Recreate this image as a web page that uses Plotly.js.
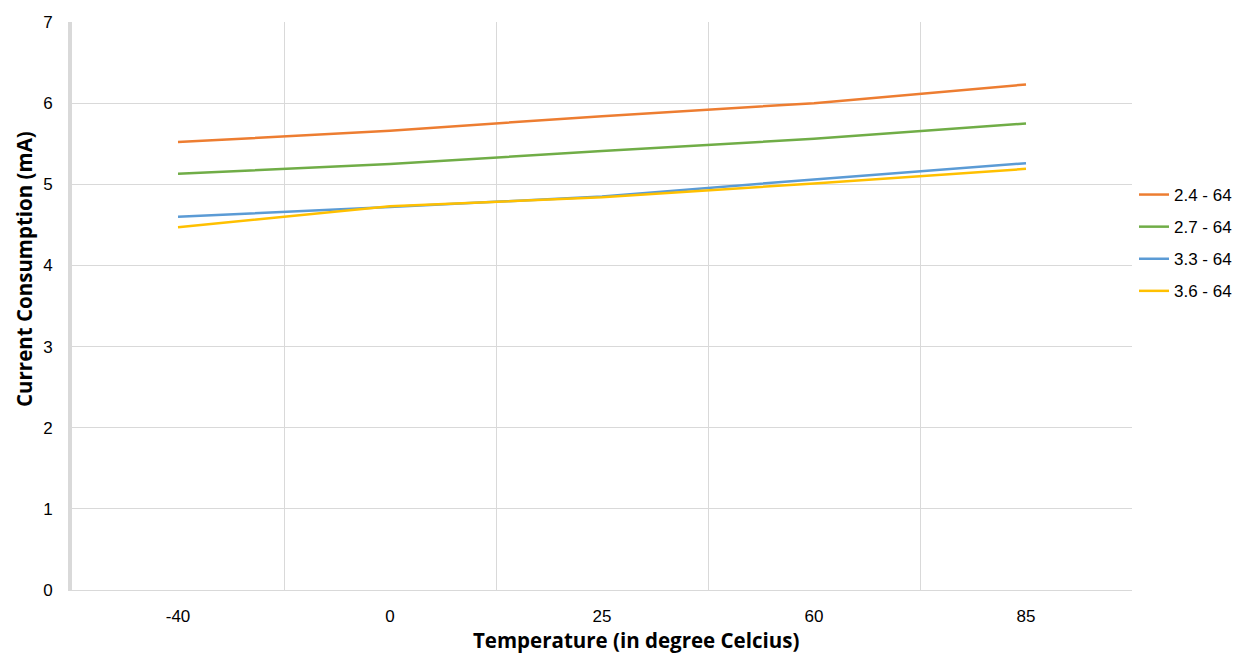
<!DOCTYPE html>
<html>
<head>
<meta charset="utf-8">
<script src="https://cdn.plot.ly/plotly-3.0.1.min.js"></script>
<style>html,body{margin:0;padding:0;background:#fff;}#chart{width:1238px;height:654px;}</style>
</head>
<body>
<div id="chart"></div>
<script>
const categories = ["-40", "0", "25", "60", "85"];
const seriesNames = ["2.4 - 64", "2.7 - 64", "3.3 - 64", "3.6 - 64"];
const s24 = [5.52, 5.66, 5.84, 6.00, 6.23];
const s27 = [5.13, 5.25, 5.41, 5.56, 5.75];
const s33 = [4.60, 4.72, 4.85, 5.06, 5.26];
const s36 = [4.47, 4.73, 4.84, 5.01, 5.19];
const colors = ["#ED7D31", "#70AD47", "#5B9BD5", "#FFC000"];
const xTitle = "Temperature (in degree Celcius)";
const yTitle = "Current Consumption (mA)";

const allSeries = [s24, s27, s33, s36];
const traces = allSeries.map((vals, i) => ({
  x: categories,
  y: vals,
  type: "scatter",
  mode: "lines",
  name: seriesNames[i],
  legendgroup: "g" + i,
  line: {color: colors[i], width: 2.5}
}));

const titleFont = {family: "Open Sans, sans-serif", size: 20.5, color: "#000", weight: "bold"};

const layout = {
  width: 1238,
  height: 654,
  paper_bgcolor: "#fff",
  plot_bgcolor: "#fff",
  margin: {l: 72, r: 106, t: 22, b: 64, autoexpand: false},
  showlegend: true,
  legend: {
    xref: "container", yref: "container",
    x: 1134 / 1238, xanchor: "left", y: 1 - 243 / 654, yanchor: "middle",
    font: {family: "Liberation Sans, Arial, sans-serif", size: 17, color: "#000"},
    itemwidth: 30, tracegroupgap: 7,
    bgcolor: "rgba(0,0,0,0)"
  },
  xaxis: {
    type: "category",
    range: [-0.5, 4.5],
    tickson: "boundaries",
    showgrid: true,
    gridcolor: "#d9d9d9",
    gridwidth: 1,
    showline: true,
    linecolor: "#d9d9d9",
    linewidth: 1,
    ticks: "",
    ticklabelstandoff: 11,
    tickfont: {family: "Liberation Sans, Arial, sans-serif", size: 17, color: "#000"},
    zeroline: false,
    mirror: false
  },
  yaxis: {
    range: [0, 7],
    dtick: 1,
    tick0: 0,
    showgrid: true,
    gridcolor: "#d9d9d9",
    gridwidth: 1,
    showline: true,
    linecolor: "#d9d9d9",
    linewidth: 4,
    ticks: "",
    ticklabelstandoff: 12,
    tickfont: {family: "Liberation Sans, Arial, sans-serif", size: 17, color: "#000"},
    zeroline: false
  },
  annotations: [
    {text: xTitle, xref: "paper", yref: "paper", x: (636 - 72) / 1060, y: (590 - 640) / 568,
     xanchor: "center", yanchor: "middle", showarrow: false, font: titleFont},
    {text: yTitle, xref: "paper", yref: "paper", x: (24 - 72) / 1060, y: (590 - 269) / 568,
     xanchor: "center", yanchor: "middle", showarrow: false, textangle: -90, font: titleFont}
  ]
};

Plotly.newPlot("chart", traces, layout, {displayModeBar: false, staticPlot: true});
</script>
</body>
</html>
